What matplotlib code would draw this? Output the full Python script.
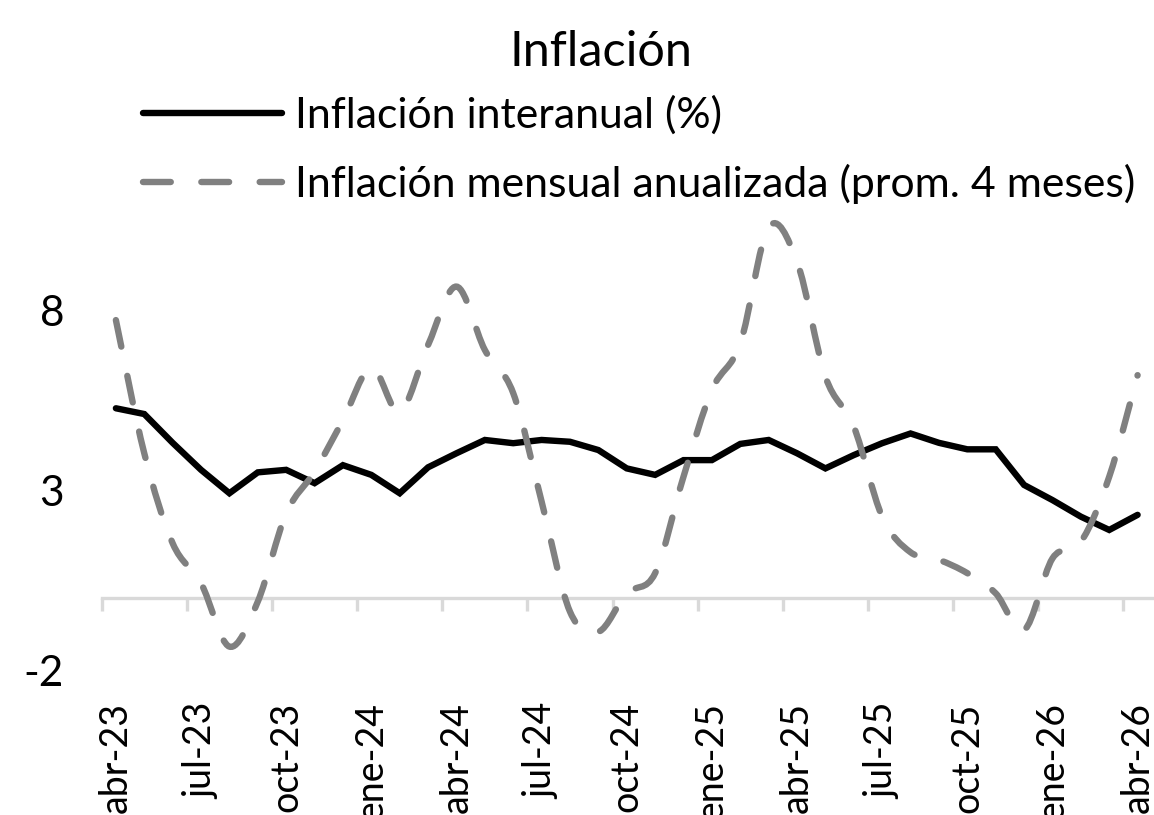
import numpy as np
import matplotlib
matplotlib.use('Agg')
import matplotlib.pyplot as plt
from matplotlib.path import Path
from matplotlib.patches import PathPatch
from matplotlib.lines import Line2D

plt.rcParams['font.family'] = ['Lato', 'DejaVu Sans']
plt.rcParams['lines.scale_dashes'] = False

# meses abr-23 .. abr-26
months = ['abr-23', 'may-23', 'jun-23', 'jul-23', 'ago-23', 'sep-23', 'oct-23',
          'nov-23', 'dic-23', 'ene-24', 'feb-24', 'mar-24', 'abr-24', 'may-24',
          'jun-24', 'jul-24', 'ago-24', 'sep-24', 'oct-24', 'nov-24', 'dic-24',
          'ene-25', 'feb-25', 'mar-25', 'abr-25', 'may-25', 'jun-25', 'jul-25',
          'ago-25', 'sep-25', 'oct-25', 'nov-25', 'dic-25', 'ene-26', 'feb-26',
          'mar-26', 'abr-26']

interanual = [5.27, 5.11, 4.31, 3.56, 2.91, 3.49, 3.56, 3.19, 3.69, 3.42, 2.91,
              3.63, 4.02, 4.39, 4.30, 4.39, 4.34, 4.11, 3.60, 3.42, 3.83, 3.83,
              4.28, 4.39, 4.02, 3.60, 3.97, 4.30, 4.57, 4.31, 4.13, 4.13, 3.14,
              2.72, 2.26, 1.89, 2.31]

mensual_anualizada = [7.72, 4.02, 1.52, 0.41, -1.35, -0.10, 2.35, 3.51, 4.94,
                      6.40, 5.17, 7.03, 8.65, 6.89, 5.69, 2.68, -0.38, -0.94,
                      0.13, 0.69, 3.37, 5.78, 7.07, 10.30, 9.34, 6.15, 4.76,
                      2.26, 1.27, 1.06, 0.69, 0.13, -0.89, 1.10, 1.56, 3.37,
                      6.19]

label_1 = 'Inflación interanual (%)'
label_2 = 'Inflación mensual anualizada (prom. 4 meses)'
yticks = [-2, 3, 8]


def smooth_path(x, y):
    # curva tipo "línea suavizada" de Excel (Bezier por Catmull-Rom)
    pts = np.column_stack([x, y]).astype(float)
    n = len(pts)
    verts = [pts[0]]
    codes = [Path.MOVETO]
    for i in range(n - 1):
        p0 = pts[max(i - 1, 0)]
        p1 = pts[i]
        p2 = pts[i + 1]
        p3 = pts[min(i + 2, n - 1)]
        c1 = p1 + (p2 - p0) / 6.0
        c2 = p2 - (p3 - p1) / 6.0
        verts += [c1, c2, p2]
        codes += [Path.CURVE4] * 3
    return Path(verts, codes)


W, H = 1154, 815
fig = plt.figure(figsize=(W / 100, H / 100), dpi=100)

# ejes colocados en pixeles
x0, x1 = 101.7, 1151.8
ybot, ytop = 670.0, 202.0
ax = fig.add_axes([x0 / W, 1 - ybot / H, (x1 - x0) / W, (ybot - ytop) / H])

x = np.arange(len(months))
ax.plot(x, interanual, color='black', lw=4.6, solid_joinstyle='miter',
        solid_capstyle='round', zorder=3)

dashed = PathPatch(smooth_path(x, mensual_anualizada), fill=False,
                   edgecolor='#808080', lw=4.6, zorder=4,
                   linestyle=(0, (19.5, 21.5)), capstyle='round')
ax.add_patch(dashed)

ax.set_xlim(-0.5, len(months) - 0.5)
ax.set_ylim(-2, 11)

for s in ['top', 'right', 'left']:
    ax.spines[s].set_visible(False)
ax.spines['bottom'].set_position(('data', 0))
ax.spines['bottom'].set_color('#d9d9d9')
ax.spines['bottom'].set_linewidth(2.4)

ax.set_yticks(yticks)
ax.set_yticklabels([str(v) for v in yticks])
ax.tick_params(axis='y', length=0, pad=27, labelsize=30.5)

ax.set_xticks(np.arange(-0.5, len(months) - 1, 3))
ax.set_xticklabels([])
ax.set_xticks(x[::3], minor=True)
ax.set_xticklabels(months[::3], minor=True, rotation=90)
ax.tick_params(axis='x', which='major', length=9, width=2.4, color='#d9d9d9',
               direction='out')
ax.tick_params(axis='x', which='minor', length=0, pad=75, labelsize=27)

fig.text(601 / W, 1 - 52 / H, 'Inflación', ha='center', va='center',
         fontsize=35)

handles = [Line2D([], [], color='black', lw=4.6, solid_capstyle='round'),
           Line2D([], [], color='#808080', lw=4.6, dash_capstyle='round',
                  linestyle=(0, (20, 22)))]
fig.legend(handles, [label_1, label_2], loc='center left',
           bbox_to_anchor=(143 / W, 1 - 150 / H), frameon=False,
           fontsize=30.8, handlelength=3.25, handletextpad=0.3,
           labelspacing=0.68, borderpad=0, borderaxespad=0)

fig.savefig('out.png', dpi=100)
